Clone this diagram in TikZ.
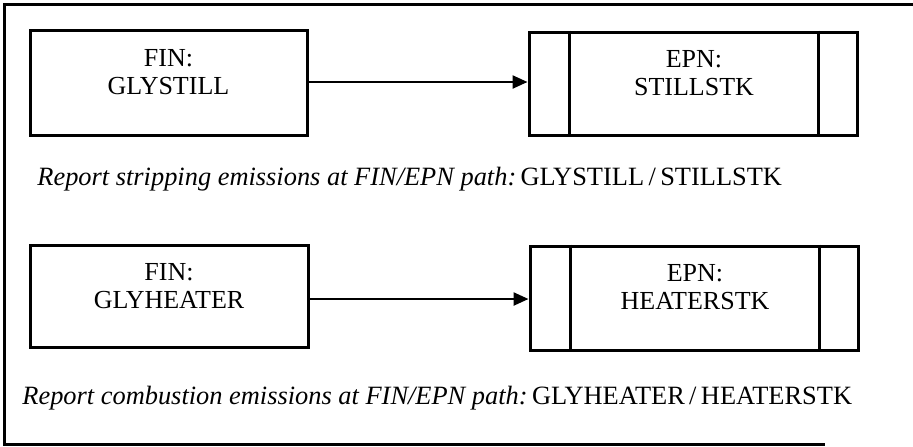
\documentclass[tikz,border=0pt]{standalone}
\usepackage{fontspec}
\setmainfont{Liberation Serif}
\usetikzlibrary{arrows.meta}
\begin{document}
\begin{tikzpicture}[x=0.5pt,y=-0.5pt,
  frameline/.style={line width=1.5pt},
  finbox/.style={draw,line width=1.5pt,minimum width=#1,inner sep=0pt},
  lbl/.style={align=center,inner sep=0pt,font=\fontsize{13pt}{14pt}\selectfont},
  note/.style={inner sep=0pt,font=\fontsize{13.2pt}{14pt}\selectfont},
  flow/.style={line width=1.2pt,-{Triangle[length=7.5pt,width=6.5pt]}},
  sep/.style={line width=1.3pt}]
\useasboundingbox (0,0) rectangle (913,446);
% outer frame (scan cut off on the right)
\coordinate (tl) at (4,4);
\coordinate (tr) at (913,4);
\coordinate (bl) at (4,444);
\coordinate (br) at (825,444);
\draw[frameline] (tr) -- (tl) -- (bl) -- (br);
% row 1
\node[finbox=138.5pt,minimum height=52.5pt] (f1) at (168.5,82.5) {};
\node[lbl] (f1t) at (168.5,72) {FIN:\\GLYSTILL};
\node[finbox=164pt,minimum height=51.5pt] (e1) at (693,83.5) {};
\draw[sep] ([xshift=21pt]e1.north west) -- ([xshift=21pt]e1.south west);
\draw[sep] ([xshift=-20pt]e1.north east) -- ([xshift=-20pt]e1.south east);
\node[lbl] (e1t) at (694,73) {EPN:\\STILLSTK};
\draw[flow] (f1.east |- 0,82) -- (e1.west |- 0,82);
\node[note,anchor=base west] (n1) at (37,185) {\textit{Report stripping emissions at FIN/EPN path:}\,GLYSTILL\,/\,STILLSTK};
% row 2
\node[finbox=139pt,minimum height=51pt] (f2) at (169,296) {};
\node[lbl] (f2t) at (169,286) {FIN:\\GLYHEATER};
\node[finbox=164pt,minimum height=52pt] (e2) at (694,298) {};
\draw[sep] ([xshift=21pt]e2.north west) -- ([xshift=21pt]e2.south west);
\draw[sep] ([xshift=-20pt]e2.north east) -- ([xshift=-20pt]e2.south east);
\node[lbl] (e2t) at (695,287) {EPN:\\HEATERSTK};
\draw[flow] (f2.east |- 0,299) -- (e2.west |- 0,299);
\node[note,anchor=base west] (n2) at (22,404) {\textit{Report combustion emissions at FIN/EPN path:}\,GLYHEATER\,/\,HEATERSTK};
\end{tikzpicture}
\end{document}
